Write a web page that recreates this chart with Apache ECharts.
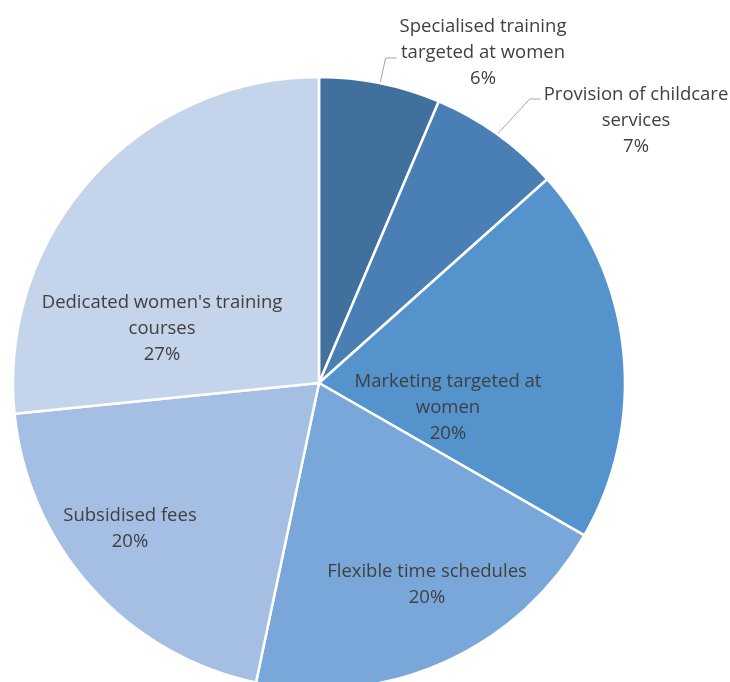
<!DOCTYPE html>
<html>
<head>
<meta charset="utf-8">
<script src="https://cdn.jsdelivr.net/npm/echarts@6/dist/echarts.min.js"></script>
<style>
  html, body { margin: 0; padding: 0; background: #fff; }
  #chart { width: 730px; height: 682px; }
</style>
</head>
<body>
<div id="chart"></div>
<script>
const categories = [
  'Specialised training\ntargeted at women',
  'Provision of childcare\nservices',
  'Marketing targeted at\nwomen',
  'Flexible time schedules',
  'Subsidised fees',
  "Dedicated women's training\ncourses"
]
const values = [6.4, 7.0, 19.9, 20.0, 20.1, 26.6]

const colors = ['#41709c', '#4a7fb5', '#5593cd', '#7aa7da', '#a4bfe3', '#c4d4ea']
// label centres and leader-line offsets (layout only)
const labelPos = [[483, 53], [636, 121], [448, 408], [427, 585], [130, 529], [162, 329]]
const lineDy = [5, -22, 0, 0, 0, 0]
const outside = [true, true, false, false, false, false]

const chart = echarts.init(document.getElementById('chart'))

const option = {
  animation: false,
  color: colors,
  series: [{
    type: 'pie',
    center: [319, 383],
    radius: 306,
    startAngle: 90,
    clockwise: true,
    itemStyle: {
      borderColor: '#ffffff',
      borderWidth: 2.5
    },
    label: {
      color: '#404040',
      fontFamily: 'Open Sans',
      fontSize: 18.5,
      lineHeight: 26,
      align: 'center',
      overflow: 'none',
      edgeDistance: 0,
      formatter: (p) => p.name + '\n' + Math.round(p.percent) + '%'
    },
    labelLine: {
      lineStyle: { color: '#a6a6a6', width: 1 },
      length: 20,
      length2: 10
    },
    labelLayout: (params) => {
      const i = params.dataIndex
      const [x, y] = labelPos[i]
      const res = { x: x, y: y, align: 'center', verticalAlign: 'middle' }
      if (outside[i] && params.labelLinePoints) {
        const start = params.labelLinePoints[0]
        const endX = x - params.labelRect.width / 2 - 3
        const endY = y + lineDy[i]
        res.labelLinePoints = [start, [endX - 11, endY], [endX, endY]]
      }
      return res
    },
    data: categories.map((name, i) => ({
      name: name,
      value: values[i],
      label: { position: outside[i] ? 'outside' : 'inside' },
      labelLine: { show: outside[i] }
    }))
  }]
}

chart.setOption(option)
</script>
</body>
</html>
